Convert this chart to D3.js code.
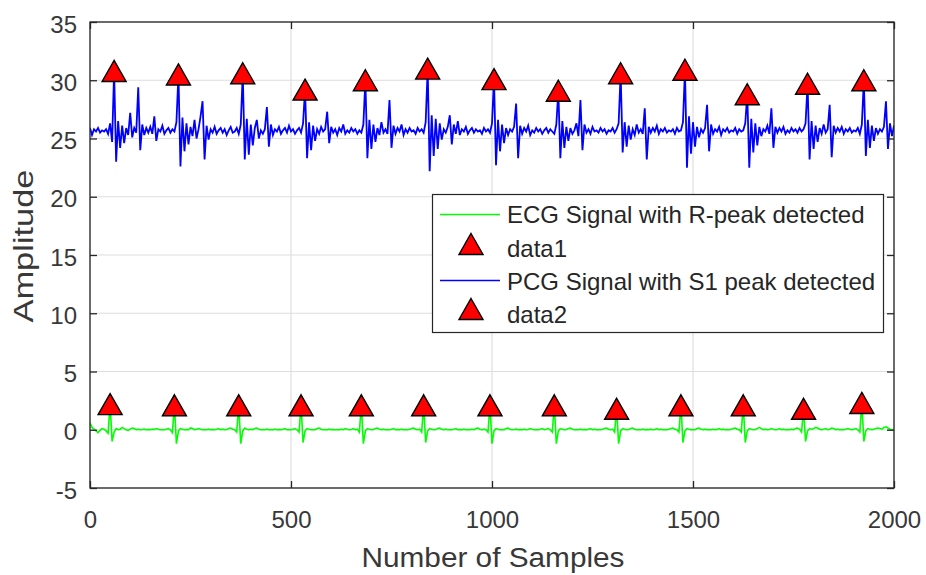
<!DOCTYPE html>
<html><head><meta charset="utf-8">
<script src="https://cdn.jsdelivr.net/npm/d3@7"></script>
<style>
body{margin:0;background:#fff}
svg{display:block}
text{font-family:"Liberation Sans",Arial,Helvetica,sans-serif}
</style>
</head><body>
<svg id="c" width="926" height="575"></svg>
<script>
// ---------------- data ----------------
const sampleStep = 5; // one value every 5 samples, starting at sample 0
const ecgValues = [
/*    0 */ 0.6, 0.2, 0.05, -0.1, -0.25, -0.05, 0.1, 0.05, -0.1, -0.3,
/*   50 */ 2.2, -1.0, -0.2, 0.1, 0.0, 0.05, 0.2, 0.1, 0.0, -0.05,
/*  100 */ 0.05, 0.15, 0.1, 0.0, 0.05, 0.0, 0.02, 0.05, 0.0, 0.03,
/*  150 */ 0.0, 0.05, 0.02, 0.1, 0.05, 0.0, 0.02, 0.0, 0.05, 0.1,
/*  200 */ 0.0, -0.25, 2.1, -1.2, -0.1, 0.1, 0.05, 0.0, 0.03, 0.0,
/*  250 */ 0.15, 0.1, 0.0, 0.05, 0.1, 0.05, 0.0, 0.02, 0.0, 0.05,
/*  300 */ 0.0, 0.03, 0.0, 0.05, 0.1, 0.0, 0.05, 0.0, 0.02, 0.1,
/*  350 */ 0.15, 0.05, 0.0, -0.2, 2.1, -1.2, -0.1, 0.15, 0.05, 0.0,
/*  400 */ 0.05, 0.0, 0.1, 0.15, 0.05, 0.0, 0.02, 0.0, 0.05, 0.0,
/*  450 */ 0.02, 0.0, 0.05, 0.0, 0.03, 0.0, 0.05, 0.1, 0.0, 0.02,
/*  500 */ 0.0, 0.05, 0.1, 0.0, -0.2, 2.1, -1.1, -0.1, 0.1, 0.05,
/*  550 */ 0.0, 0.02, 0.0, 0.1, 0.15, 0.05, 0.0, 0.02, 0.0, 0.05,
/*  600 */ 0.0, 0.03, 0.0, 0.02, 0.0, 0.05, 0.0, 0.1, 0.05, 0.0,
/*  650 */ 0.02, 0.1, 0.0, 0.05, -0.2, 2.1, -1.2, -0.1, 0.1, 0.05,
/*  700 */ 0.0, 0.02, 0.1, 0.15, 0.05, 0.0, 0.05, 0.0, 0.02, 0.0,
/*  750 */ 0.05, 0.1, 0.0, 0.03, 0.0, 0.05, 0.0, 0.02, 0.0, 0.05,
/*  800 */ 0.1, 0.15, 0.05, 0.0, 0.05, -0.2, 2.1, -1.1, -0.1, 0.1,
/*  850 */ 0.05, 0.0, 0.02, 0.1, 0.15, 0.05, 0.0, 0.05, 0.0, 0.02,
/*  900 */ 0.0, 0.05, 0.1, 0.0, 0.03, 0.0, 0.05, 0.0, 0.02, 0.0,
/*  950 */ 0.05, 0.0, 0.1, 0.15, 0.05, 0.0, 0.05, 0.0, -0.2, 2.1,
/* 1000 */ -1.2, -0.1, 0.1, 0.05, 0.0, 0.02, 0.0, 0.1, 0.15, 0.05,
/* 1050 */ 0.0, 0.02, 0.05, 0.0, 0.03, 0.0, 0.05, 0.0, 0.02, 0.1,
/* 1100 */ 0.05, 0.0, 0.02, 0.0, 0.05, 0.1, 0.0, 0.05, 0.1, 0.0,
/* 1150 */ -0.2, 2.1, -1.2, -0.1, 0.1, 0.05, 0.0, 0.02, 0.1, 0.15,
/* 1200 */ 0.05, 0.0, 0.02, 0.0, 0.05, 0.0, 0.03, 0.0, 0.05, 0.1,
/* 1250 */ 0.0, 0.05, 0.0, 0.02, 0.0, 0.05, 0.1, 0.15, 0.05, 0.0,
/* 1300 */ 0.05, -0.2, 1.8, -1.2, -0.1, 0.1, 0.05, 0.0, 0.02, 0.1,
/* 1350 */ 0.15, 0.05, 0.0, 0.02, 0.0, 0.05, 0.0, 0.03, 0.0, 0.05,
/* 1400 */ 0.0, 0.02, 0.1, 0.0, 0.05, 0.0, 0.02, 0.0, 0.05, 0.1,
/* 1450 */ 0.15, 0.05, 0.0, -0.2, 2.1, -1.1, -0.1, 0.1, 0.05, 0.0,
/* 1500 */ 0.02, 0.0, 0.1, 0.15, 0.05, 0.0, 0.05, 0.0, 0.02, 0.0,
/* 1550 */ 0.05, 0.0, 0.03, 0.1, 0.0, 0.05, 0.0, 0.02, 0.0, 0.05,
/* 1600 */ 0.1, 0.15, 0.05, 0.0, -0.2, 2.1, -1.1, -0.1, 0.1, 0.05,
/* 1650 */ 0.0, 0.02, 0.1, 0.2, 0.1, 0.0, 0.05, 0.0, 0.02, 0.1,
/* 1700 */ 0.05, 0.0, 0.02, 0.1, 0.0, 0.05, 0.0, 0.02, 0.0, 0.05,
/* 1750 */ 0.0, 0.1, 0.15, 0.05, -0.2, 1.8, -1.0, -0.1, 0.1, 0.05,
/* 1800 */ 0.1, 0.2, 0.15, 0.05, 0.0, 0.05, 0.1, 0.0, 0.05, 0.15,
/* 1850 */ 0.1, 0.0, 0.05, 0.0, 0.02, 0.0, 0.05, 0.1, 0.05, 0.0,
/* 1900 */ 0.05, 0.1, 0.0, -0.2, 2.3, -1.0, -0.1, 0.1, 0.05, 0.0,
/* 1950 */ 0.05, 0.1, 0.15, 0.1, 0.05, 0.2, 0.25, 0.15, 0.05, 0.0,
/* 2000 */ 0.0
];
const pcgValues = [
/*    0 */ 25.9, 25.3, 25.8, 25.6, 25.9, 25.5, 25.7, 25.6, 25.8, 25.4,
/*   50 */ 26.3, 24.7, 30.8, 23.0, 26.5, 24.2, 26.1, 24.6, 25.9, 25.3,
/*  100 */ 27.2, 25.1, 25.9, 25.5, 29.4, 24.0, 26.2, 25.3, 25.9, 25.5,
/*  150 */ 26.0, 25.4, 26.9, 24.8, 25.8, 25.6, 26.1, 25.4, 25.7, 25.9,
/*  200 */ 25.5, 25.8, 25.6, 26.4, 30.5, 22.6, 26.8, 23.9, 26.3, 24.5,
/*  250 */ 26.0, 25.2, 26.6, 25.0, 25.8, 26.9, 28.2, 23.2, 26.1, 24.9,
/*  300 */ 25.8, 25.5, 26.0, 25.4, 25.7, 25.9, 25.5, 25.8, 25.3, 25.7,
/*  350 */ 26.0, 25.5, 25.6, 25.9, 25.4, 26.2, 30.6, 23.2, 26.7, 23.6,
/*  400 */ 26.2, 24.4, 25.9, 26.6, 25.0, 25.7, 25.4, 25.8, 27.7, 24.3,
/*  450 */ 26.2, 25.3, 25.8, 25.6, 26.0, 25.4, 25.7, 25.9, 25.5, 26.1,
/*  500 */ 25.6, 25.8, 25.4, 25.7, 25.9, 25.5, 26.3, 29.2, 23.3, 26.4,
/*  550 */ 24.0, 26.1, 24.8, 25.8, 25.4, 26.0, 25.6, 25.8, 27.3, 24.6,
/*  600 */ 26.0, 25.5, 25.8, 25.3, 25.9, 25.6, 26.2, 25.4, 25.7, 25.5,
/*  650 */ 25.9, 25.6, 25.8, 25.4, 25.7, 25.5, 26.2, 30.0, 23.3, 26.6,
/*  700 */ 24.1, 26.2, 24.7, 25.9, 25.3, 26.4, 25.5, 25.8, 25.4, 28.3,
/*  750 */ 24.2, 26.1, 25.4, 25.9, 25.6, 26.2, 25.3, 25.8, 25.5, 25.9,
/*  800 */ 25.6, 25.7, 25.4, 25.9, 25.6, 25.8, 25.5, 26.4, 31.0, 22.2,
/*  850 */ 27.0, 23.5, 26.7, 24.1, 26.3, 24.9, 25.8, 25.5, 26.0, 27.0,
/*  900 */ 24.5, 26.2, 25.4, 26.5, 25.3, 25.8, 25.6, 26.0, 25.4, 25.7,
/*  950 */ 25.9, 25.5, 25.8, 25.6, 25.7, 25.4, 25.9, 25.6, 25.8, 25.5,
/* 1000 */ 26.3, 30.1, 22.7, 26.6, 23.9, 26.2, 24.6, 25.9, 25.3, 25.8,
/* 1050 */ 25.6, 26.0, 28.0, 23.3, 26.1, 25.4, 25.9, 25.6, 26.1, 25.3,
/* 1100 */ 25.7, 25.5, 25.9, 25.6, 25.8, 25.4, 25.7, 25.9, 25.5, 25.8,
/* 1150 */ 25.6, 25.4, 26.2, 29.1, 23.3, 26.5, 24.2, 26.0, 24.8, 25.9,
/* 1200 */ 25.4, 25.7, 26.3, 25.2, 28.3, 24.0, 26.2, 25.5, 25.8, 25.4,
/* 1250 */ 26.0, 25.6, 25.7, 25.5, 25.9, 25.6, 25.8, 25.4, 25.7, 25.6,
/* 1300 */ 25.9, 25.5, 25.8, 26.3, 30.6, 23.8, 26.4, 24.3, 26.1, 24.9,
/* 1350 */ 25.8, 25.3, 26.2, 25.5, 25.8, 25.4, 27.6, 23.2, 26.0, 25.5,
/* 1400 */ 25.9, 25.6, 26.1, 25.4, 25.8, 25.6, 25.9, 25.5, 25.7, 25.6,
/* 1450 */ 25.8, 25.4, 25.9, 25.6, 25.7, 26.4, 30.9, 22.5, 26.9, 23.7,
/* 1500 */ 26.4, 24.3, 26.0, 25.1, 25.8, 25.5, 25.9, 27.9, 23.9, 26.2,
/* 1550 */ 25.4, 25.8, 25.6, 26.0, 25.3, 25.8, 25.6, 25.9, 25.5, 25.7,
/* 1600 */ 25.6, 25.9, 25.4, 25.8, 25.6, 25.7, 26.3, 28.8, 22.5, 26.7,
/* 1650 */ 23.8, 26.3, 24.4, 26.0, 25.2, 25.8, 25.6, 26.1, 25.4, 27.6,
/* 1700 */ 24.2, 26.0, 25.5, 25.9, 25.6, 26.0, 25.4, 25.7, 25.5, 25.9,
/* 1750 */ 25.6, 25.8, 25.5, 25.9, 25.6, 25.8, 26.3, 29.7, 23.2, 26.5,
/* 1800 */ 24.1, 26.1, 24.7, 25.9, 25.4, 26.2, 25.5, 25.8, 27.9, 23.4,
/* 1850 */ 26.1, 25.5, 25.9, 25.6, 26.0, 25.4, 25.8, 25.6, 25.9, 25.5,
/* 1900 */ 25.7, 25.6, 25.9, 25.4, 26.2, 30.0, 23.5, 26.6, 24.2, 26.1,
/* 1950 */ 24.8, 25.9, 25.4, 25.8, 25.6, 26.0, 28.2, 24.1, 26.3, 25.2,
/* 2000 */ 26.1
];
const ecgPeakSamples = [50, 210, 370, 525, 675, 830, 995, 1155, 1310, 1470, 1625, 1775, 1920];
const ecgPeakValues  = [2.2, 2.1, 2.1, 2.1, 2.1, 2.1, 2.1, 2.1, 1.8, 2.1, 2.1, 1.8, 2.3];
const pcgPeakSamples = [60, 220, 380, 535, 685, 840, 1005, 1165, 1320, 1480, 1635, 1785, 1925];
const pcgPeakValues  = [30.8, 30.5, 30.6, 29.2, 30.0, 31.0, 30.1, 29.1, 30.6, 30.9, 28.8, 29.7, 30.0];
const xTicks = [0, 500, 1000, 1500, 2000];
const yTicks = [-5, 0, 5, 10, 15, 20, 25, 30, 35];
const legendLabels = ["ECG Signal with R-peak detected", "data1", "PCG Signal with S1 peak detected", "data2"];
const xLabel = "Number of Samples";
const yLabel = "Amplitude";

// ---------------- layout ----------------
const m = {left: 90, top: 22, right: 894, bottom: 488};
const axisColor = "#262626";
const textColor = "#383838";

const svg = d3.select("#c");
const x = d3.scaleLinear().domain([0, 2000]).range([m.left, m.right]);
const y = d3.scaleLinear().domain([-5, 35]).range([m.bottom, m.top]);
const fmt = d => String(d);

// grid
const grid = svg.append("g");
grid.selectAll("line.gx").data(xTicks).join("line")
  .attr("x1", d => x(d)).attr("x2", d => x(d))
  .attr("y1", m.top).attr("y2", m.bottom)
  .attr("stroke", "#dedede").attr("stroke-width", 1.2);
grid.selectAll("line.gy").data(yTicks).join("line")
  .attr("y1", d => y(d)).attr("y2", d => y(d))
  .attr("x1", m.left).attr("x2", m.right)
  .attr("stroke", "#dedede").attr("stroke-width", 1.2);

// signals
const toPts = vals => vals.map((v, i) => [i * sampleStep, v]);
const line = d3.line().x(d => x(d[0])).y(d => y(d[1]));
svg.append("clipPath").attr("id", "pc").append("rect")
  .attr("x", m.left).attr("y", m.top).attr("width", m.right - m.left).attr("height", m.bottom - m.top);
const plot = svg.append("g").attr("clip-path", "url(#pc)");
plot.append("path").datum(toPts(ecgValues)).attr("d", line)
  .attr("fill", "none").attr("stroke", "#00ff00").attr("stroke-width", 1.6).attr("stroke-linejoin", "miter");
plot.append("path").datum(toPts(pcgValues)).attr("d", line)
  .attr("fill", "none").attr("stroke", "#0000ff").attr("stroke-width", 1.8).attr("stroke-linejoin", "miter");

// triangle markers
const tri = (cx, cy) => {
  const p = d3.path();
  p.moveTo(cx, cy - 10.5); p.lineTo(cx + 12, cy + 10.5); p.lineTo(cx - 12, cy + 10.5); p.closePath();
  return p.toString();
};
const markers = (samples, values) => svg.append("g").selectAll("path")
  .data(samples.map((s, i) => [s, values[i]])).join("path")
  .attr("d", d => tri(x(d[0]), y(d[1])))
  .attr("fill", "#ff0000").attr("stroke", "#000").attr("stroke-width", 1.4);
markers(ecgPeakSamples, ecgPeakValues);
markers(pcgPeakSamples, pcgPeakValues);

// axes box
svg.append("rect").attr("x", m.left).attr("y", m.top)
  .attr("width", m.right - m.left).attr("height", m.bottom - m.top)
  .attr("fill", "none").attr("stroke", axisColor).attr("stroke-width", 1.3);

function styleAxis(g) {
  g.select(".domain").remove();
  g.selectAll(".tick line").attr("stroke", axisColor).attr("stroke-width", 1.3);
  g.selectAll(".tick text").attr("fill", textColor).attr("font-size", 24)
    .attr("font-family", '"Liberation Sans",Arial,sans-serif');
}
svg.append("g").attr("transform", `translate(${m.left},0)`)
  .call(d3.axisLeft(y).tickValues(yTicks).tickFormat(fmt).tickSizeInner(-7).tickSizeOuter(0).tickPadding(13))
  .call(styleAxis)
  .selectAll(".tick text").attr("dy", "0.42em");
svg.append("g").attr("transform", `translate(${m.right},0)`)
  .call(d3.axisRight(y).tickValues(yTicks).tickSizeInner(-7).tickSizeOuter(0).tickFormat(""))
  .call(styleAxis);
svg.append("g").attr("transform", `translate(0,${m.bottom})`)
  .call(d3.axisBottom(x).tickValues(xTicks).tickFormat(fmt).tickSizeInner(-7).tickSizeOuter(0).tickPadding(23))
  .call(styleAxis);
svg.append("g").attr("transform", `translate(0,${m.top})`)
  .call(d3.axisTop(x).tickValues(xTicks).tickSizeInner(-7).tickSizeOuter(0).tickFormat(""))
  .call(styleAxis);

// axis labels
svg.append("text").attr("x", (m.left + m.right) / 2 + 1).attr("y", 567)
  .attr("text-anchor", "middle").attr("font-size", 27).attr("fill", textColor)
  .attr("textLength", 263).attr("lengthAdjust", "spacingAndGlyphs").text(xLabel);
svg.append("text").attr("transform", "translate(33,246) rotate(-90)")
  .attr("text-anchor", "middle").attr("font-size", 27).attr("fill", textColor)
  .attr("textLength", 153).attr("lengthAdjust", "spacingAndGlyphs").text(yLabel);

// legend
const lg = svg.append("g");
lg.append("rect").attr("x", 432.5).attr("y", 194.5).attr("width", 451).attr("height", 138)
  .attr("fill", "#fff").attr("stroke", axisColor).attr("stroke-width", 1.2);
const rows = [
  {type: "line", color: "#00ff00", cy: 214.5, base: 223, label: legendLabels[0]},
  {type: "marker", cy: 244, base: 257, label: legendLabels[1]},
  {type: "line", color: "#0000ff", cy: 280.5, base: 290, label: legendLabels[2]},
  {type: "marker", cy: 309, base: 323, label: legendLabels[3]}
];
rows.forEach(r => {
  if (r.type === "line") {
    lg.append("line").attr("x1", 440).attr("x2", 500).attr("y1", r.cy).attr("y2", r.cy)
      .attr("stroke", r.color).attr("stroke-width", 1.3);
  } else {
    lg.append("path").attr("d", tri(471, r.cy))
      .attr("fill", "#ff0000").attr("stroke", "#000").attr("stroke-width", 1.4);
  }
  lg.append("text").attr("x", 507).attr("y", r.base).attr("font-size", 24)
    .attr("fill", "#262626").text(r.label);
});
</script>
</body></html>
